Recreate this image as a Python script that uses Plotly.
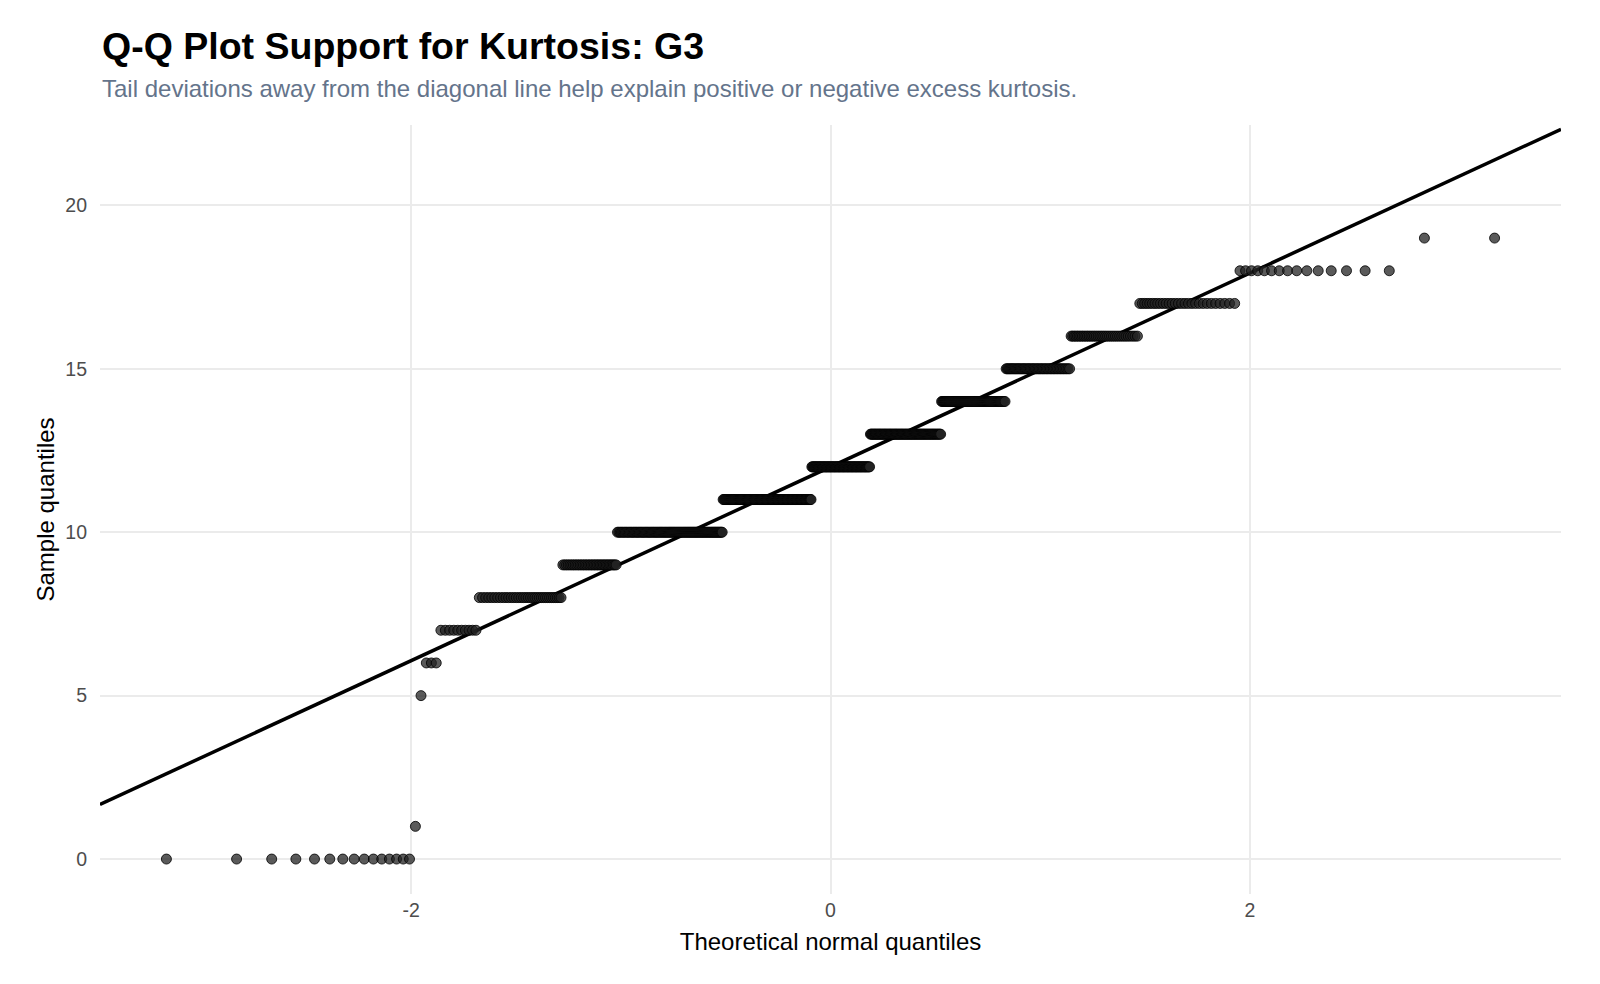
import plotly.graph_objects as go
from statistics import NormalDist
import numpy as np

# G3 grade values and their frequencies
grade_values = [0, 1, 5, 6, 7, 8, 9, 10, 11, 12, 13, 14, 15, 16, 17, 18, 19]
grade_counts = [15, 1, 1, 3, 10, 35, 35, 97, 104, 72, 82, 63, 49, 36, 29, 15, 2]

title_text = "<b>Q-Q Plot Support for Kurtosis: G3</b>"
subtitle_text = "Tail deviations away from the diagonal line help explain positive or negative excess kurtosis."
x_title = "Theoretical normal quantiles"
y_title = "Sample quantiles"
x_ticks = [-2, 0, 2]
y_ticks = [0, 5, 10, 15, 20]

sample = np.sort(np.repeat(grade_values, grade_counts)).astype(float)
n = len(sample)
nd = NormalDist()
a = 0.5 if n > 10 else 3 / 8
probs = (np.arange(1, n + 1) - a) / (n + 1 - 2 * a)
theo = np.array([nd.inv_cdf(p) for p in probs])

# qq line through quartiles
q1, q3 = np.quantile(sample, [0.25, 0.75])
z1, z3 = nd.inv_cdf(0.25), nd.inv_cdf(0.75)
slope = (q3 - q1) / (z3 - z1)
intercept = q1 - slope * z1

xmin, xmax = theo.min(), theo.max()
xpad = 0.05 * (xmax - xmin)
xr = [xmin - xpad, xmax + xpad]
ylo = min(sample.min(), intercept + slope * xmin)
yhi = max(sample.max(), intercept + slope * xmax)
ypad = 0.05 * (yhi - ylo)
yr = [ylo - ypad, yhi + ypad]

fig = go.Figure()
fig.add_trace(go.Scatter(
    x=xr, y=[intercept + slope * v for v in xr], mode="lines",
    line=dict(color="black", width=3.5), hoverinfo="skip", showlegend=False))
fig.add_trace(go.Scatter(
    x=theo, y=sample, mode="markers",
    marker=dict(size=10, color="rgba(35,35,35,0.75)",
                line=dict(color="rgba(0,0,0,0.8)", width=1)),
    showlegend=False))

L, R, T, B = 100, 39, 125, 90
W, H = 1600, 984
font_family = "Liberation Sans, Arial, sans-serif"
fig.update_layout(
    width=W, height=H,
    margin=dict(l=L, r=R, t=T, b=B),
    paper_bgcolor="white", plot_bgcolor="white",
    font=dict(family=font_family, color="black"),
    xaxis=dict(range=xr, tickvals=x_ticks, ticktext=[str(v) for v in x_ticks],
               showgrid=True, gridcolor="#ebebeb", gridwidth=1.5, zeroline=False,
               showline=False, ticks="", tickfont=dict(size=19.5, color="#4d4d4d"),
               ticklabelstandoff=2,
               title=dict(text=x_title, font=dict(size=24, color="black"), standoff=13)),
    yaxis=dict(range=yr, tickvals=y_ticks, ticktext=[str(v) for v in y_ticks],
               showgrid=True, gridcolor="#ebebeb", gridwidth=1.5, zeroline=False,
               showline=False, ticks="", tickfont=dict(size=19.5, color="#4d4d4d"),
               ticklabelstandoff=12,
               title=dict(text=y_title, font=dict(size=24, color="black"), standoff=3)),
)
plot_w = W - L - R
plot_h = H - T - B
anns = []
for text, size, color, px, py in [(title_text, 37.5, "black", 100, 46),
                                  (subtitle_text, 24, "#64748b", 100, 88)]:
    anns.append(dict(text=text, xref="paper", yref="paper", showarrow=False,
                     x=(px - L) / plot_w, y=1 + (T - py) / plot_h,
                     xanchor="left", yanchor="middle",
                     font=dict(size=size, color=color, family=font_family)))
fig.update_layout(annotations=anns)
fig.write_html("out.html")
